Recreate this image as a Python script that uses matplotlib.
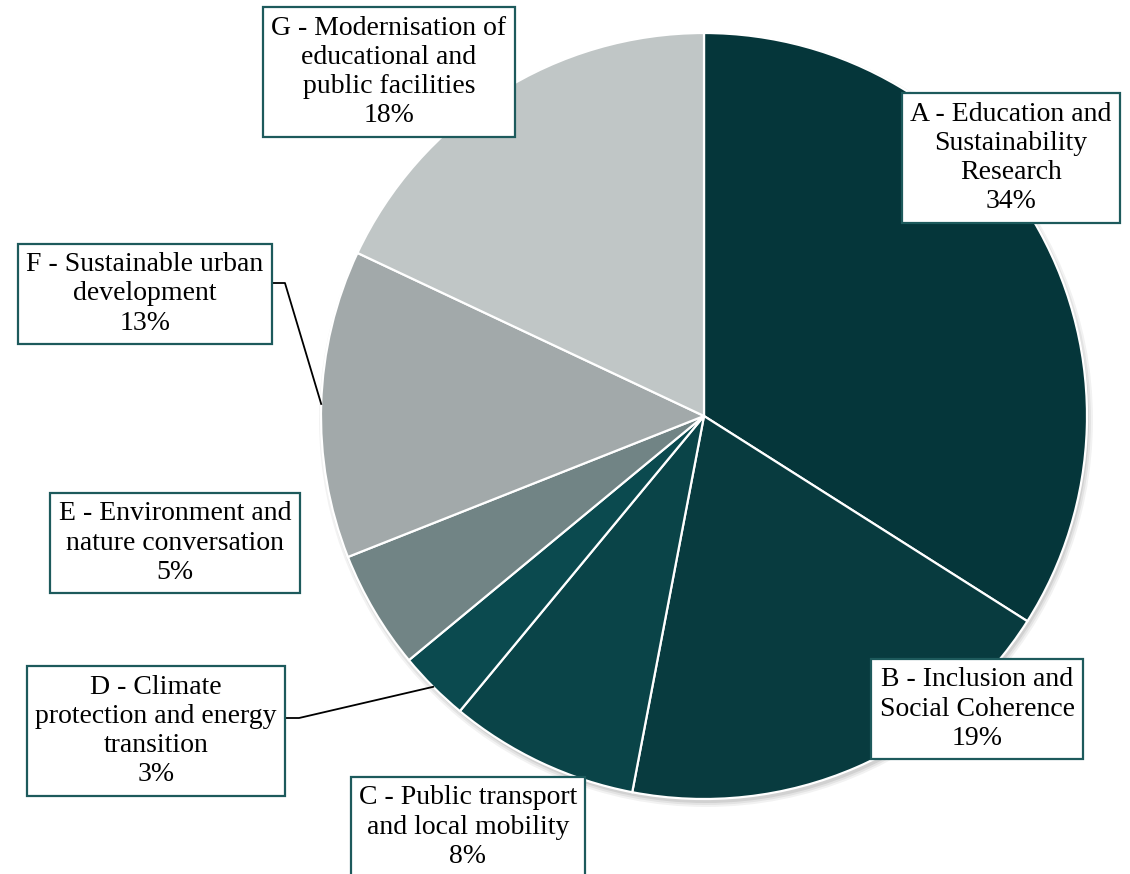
import matplotlib.pyplot as plt
import numpy as np

# Share of funding per action field
codes = ['A', 'B', 'C', 'D', 'E', 'F', 'G']
titles = [
    'Education and\nSustainability\nResearch',
    'Inclusion and\nSocial Coherence',
    'Public transport\nand local mobility',
    'Climate\nprotection and energy\ntransition',
    'Environment and\nnature conversation',
    'Sustainable urban\ndevelopment',
    'Modernisation of\neducational and\npublic facilities',
]
shares = [34, 19, 8, 3, 5, 13, 18]
colors = ['#05363a', '#083b3f', '#0a4448', '#0b4a4f', '#718485', '#a2a9aa', '#c0c6c6']

# label box centres (pixels) and which labels get a leader line
label_pos = {
    'A': (1011, 716), 'B': (977, 165), 'C': (468, 47), 'D': (156, 143),
    'E': (175, 331), 'F': (145, 580), 'G': (389, 802),
}
# leader: line height on the box edge, elbow offset
leaders = {'D': (156, 14), 'F': (591, 13)}

plt.rcParams['font.family'] = ['Liberation Serif', 'DejaVu Serif']

fig = plt.figure(figsize=(11.3, 8.74), dpi=100)
ax = fig.add_axes([0, 0, 1, 1])

cx, cy, r = 704, 458, 383

# soft drop shadow behind the pie
for i, a in enumerate([0.05, 0.06, 0.08]):
    ax.add_patch(plt.Circle((cx + 2, cy - 4), r + 4 - 2 * i, color='black', alpha=a, lw=0, zorder=0))

wedges, _ = ax.pie(shares, colors=colors, startangle=90, counterclock=False,
                   center=(cx, cy), radius=r, frame=True,
                   wedgeprops=dict(edgecolor='white', linewidth=1.6))
ax.set_xlim(0, 1130)
ax.set_ylim(0, 874)
ax.set_aspect('equal')
ax.axis('off')

texts = {}
for code, title, share in zip(codes, titles, shares):
    x, y = label_pos[code]
    texts[code] = ax.text(x, y, f'{code} - {title}\n{share}%', ha='center', va='center',
                          fontsize=20, color='black', linespacing=1.22, zorder=5,
                          bbox=dict(boxstyle='square,pad=0.3', facecolor='white',
                                    edgecolor='#1d5a5c', linewidth=1.6))

# leader lines from the right edge of the box to the middle of the slice
fig.canvas.draw()
inv = ax.transData.inverted()
for code, (ly, off) in leaders.items():
    w = wedges[codes.index(code)]
    ext = texts[code].get_bbox_patch().get_window_extent()
    x0 = inv.transform((ext.x1, ext.y0))[0]
    mid = np.deg2rad((w.theta1 + w.theta2) / 2)
    px, py = cx + r * np.cos(mid), cy + r * np.sin(mid)
    ax.plot([x0, x0 + off, px], [ly, ly, py], color='black', lw=1.3, zorder=4)

fig.savefig('out.png', dpi=100, facecolor='white')
